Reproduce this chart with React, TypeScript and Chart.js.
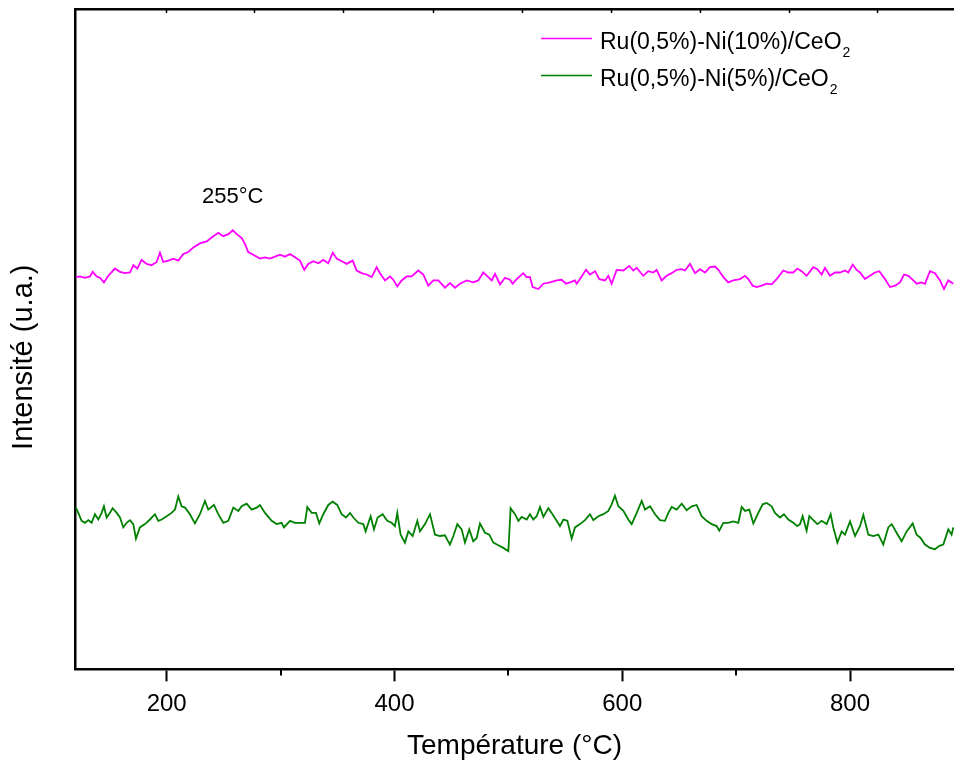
import React, { useEffect, useRef } from "react";
import { Chart, registerables } from "chart.js";

Chart.register(...registerables);

const FONT = '"Liberation Sans", Arial, Helvetica, sans-serif';

// Axis
const X_MIN = 119.5;
const X_MAX = 891.3;
const Y_MIN = 0;
const Y_MAX = 100;
const MAJOR_TICKS = [200, 400, 600, 800];
const MINOR_TICKS = [300, 500, 700];
const TOP_TICKS = [199, 277, 355, 434, 512, 590, 668, 746, 824];
const X_TITLE = "Température (°C)";
const Y_TITLE = "Intensité (u.a.)";

// Annotation
const PEAK_TEXT = "255°C";
const PEAK_X = 258;
const PEAK_Y = 70.6;

// Series labels / colours
const LABEL_A = "Ru(0,5%)-Ni(10%)/CeO₂";
const LABEL_B = "Ru(0,5%)-Ni(5%)/CeO₂";
const COLOR_A = "#ff00ff";
const COLOR_B = "#008000";

// Ru(0,5%)-Ni(10%)/CeO2
const tempsA = [
  120.4, 123.9, 128.3, 132.7, 135.0, 138.5, 141.4, 144.9, 148.7, 154.6, 159.0, 163.4, 167.8, 170.7, 174.2,
  178.0, 182.4, 186.8, 191.2, 194.1, 197.0, 201.4, 205.8, 210.2, 214.6, 219.0, 223.4, 229.2, 235.1, 239.5,
  245.3, 249.7, 254.1, 258.0, 261.5, 265.9, 268.8, 271.6, 276.0, 281.9, 286.3, 290.7, 295.1, 299.5, 303.9,
  308.3, 312.7, 317.0, 320.8, 324.3, 328.7, 333.1, 337.5, 341.9, 345.8, 349.3, 353.7, 358.0, 363.3, 366.8,
  371.2, 375.6, 380.0, 384.4, 387.3, 391.7, 396.1, 399.0, 402.5, 406.3, 410.7, 415.1, 420.9, 425.3, 429.7,
  434.1, 438.5, 444.4, 448.8, 453.1, 457.5, 463.4, 469.2, 473.6, 478.0, 482.4, 485.4, 488.3, 492.7, 497.0,
  501.4, 503.8, 507.3, 513.1, 516.1, 519.0, 521.3, 526.3, 530.7, 536.6, 542.4, 546.8, 550.6, 554.1, 558.5,
  560.0, 562.9, 568.2, 571.7, 576.1, 579.9, 584.9, 587.8, 590.7, 595.1, 601.0, 606.2, 609.7, 612.7, 618.5,
  622.9, 627.3, 630.2, 634.6, 639.0, 643.4, 647.8, 652.2, 655.1, 659.5, 663.9, 668.3, 672.7, 677.0, 681.4,
  684.4, 688.8, 693.1, 697.5, 703.4, 707.8, 710.7, 714.5, 718.0, 722.4, 726.8, 731.2, 735.6, 741.4, 745.8,
  750.2, 753.7, 757.5, 761.9, 767.8, 771.3, 775.1, 778.0, 782.4, 786.8, 791.2, 795.6, 798.5, 802.3, 805.8,
  808.8, 813.1, 817.5, 821.9, 825.7, 830.7, 835.1, 839.5, 843.9, 847.4, 851.2, 855.6, 858.5, 862.9, 865.8,
  870.2, 874.6, 879.0, 882.5, 886.3, 890.7,
];
const valuesA = [
  59.4, 59.5, 59.3, 59.5, 60.2, 59.5, 59.3, 58.6, 59.6, 60.7, 60.2, 60.0, 60.1, 61.2, 60.7,
  62.0, 61.4, 61.2, 61.7, 63.1, 61.7, 61.9, 62.2, 61.9, 62.9, 63.2, 63.9, 64.5, 64.8, 65.4,
  66.1, 65.6, 65.9, 66.5, 65.9, 65.3, 64.4, 63.2, 62.8, 62.2, 62.4, 62.2, 62.5, 62.8, 62.5,
  62.9, 62.4, 61.9, 60.5, 61.4, 61.8, 61.5, 62.0, 61.5, 63.1, 62.2, 61.8, 61.4, 61.9, 60.4,
  60.0, 59.8, 59.4, 60.9, 60.0, 58.9, 59.5, 59.0, 58.0, 58.9, 59.5, 59.5, 60.4, 59.8, 58.1,
  58.9, 58.9, 57.8, 58.5, 57.8, 58.4, 58.9, 58.6, 58.9, 60.1, 59.4, 58.9, 59.9, 58.3, 59.3,
  59.0, 58.4, 59.1, 60.0, 59.4, 59.4, 57.9, 57.6, 58.4, 58.6, 58.9, 59.0, 58.4, 58.6, 58.9,
  58.4, 59.1, 60.5, 59.8, 60.3, 59.1, 58.9, 59.6, 58.4, 60.5, 60.4, 61.1, 60.4, 60.8, 59.6,
  60.3, 60.1, 60.5, 58.9, 59.6, 60.0, 60.5, 60.6, 60.4, 61.4, 60.0, 60.6, 60.1, 60.9, 61.0,
  60.5, 59.4, 58.6, 58.9, 59.1, 59.6, 59.1, 58.1, 57.9, 58.1, 58.4, 58.3, 59.1, 60.4, 60.1,
  60.1, 60.7, 60.3, 59.6, 60.9, 60.6, 59.8, 60.8, 59.6, 60.1, 60.1, 60.4, 60.1, 61.3, 60.5,
  60.1, 59.1, 59.6, 60.1, 60.3, 59.1, 57.9, 58.1, 58.6, 59.8, 59.6, 58.9, 58.4, 58.6, 58.4,
  60.3, 60.0, 58.9, 57.6, 58.9, 58.4,
];

// Ru(0,5%)-Ni(5%)/CeO2
const tempsB = [
  120.3, 122.4, 125.3, 128.3, 131.2, 134.1, 137.0, 140.0, 142.9, 144.9, 147.3, 150.2, 152.5, 156.1, 159.0,
  161.9, 164.8, 167.8, 170.7, 173.0, 176.5, 180.9, 185.3, 189.7, 192.6, 195.6, 200.0, 204.3, 207.3, 210.2,
  213.1, 216.1, 220.4, 224.8, 229.2, 233.6, 236.5, 241.5, 245.3, 249.7, 254.1, 258.5, 262.9, 265.8, 270.2,
  274.6, 279.0, 281.9, 286.3, 292.2, 296.5, 300.9, 303.0, 308.3, 312.6, 317.0, 321.4, 323.5, 327.3, 331.1,
  334.0, 337.5, 341.9, 345.7, 349.8, 353.6, 357.4, 361.0, 363.9, 368.3, 372.6, 374.7, 379.1, 382.0, 385.2,
  389.6, 393.7, 397.5, 400.4, 402.5, 405.4, 409.2, 412.2, 416.0, 420.1, 422.4, 426.8, 431.2, 435.6, 440.0,
  444.3, 448.7, 451.7, 455.2, 459.0, 461.9, 465.7, 469.2, 472.2, 475.1, 479.5, 483.3, 486.8, 491.2, 495.6,
  500.0, 502.0, 505.8, 508.8, 511.7, 516.1, 519.0, 521.9, 524.9, 527.8, 530.7, 535.1, 538.0, 542.4, 545.3,
  548.3, 551.8, 555.6, 558.5, 562.9, 567.3, 571.7, 574.6, 579.0, 583.4, 587.8, 590.7, 593.6, 596.6, 601.0,
  605.3, 608.3, 612.7, 617.1, 620.0, 624.4, 628.8, 633.1, 637.5, 640.5, 643.4, 647.8, 652.2, 656.6, 661.0,
  665.3, 669.7, 674.1, 678.5, 682.9, 685.2, 688.8, 693.1, 697.5, 701.9, 704.9, 707.8, 711.6, 715.1, 719.5,
  723.3, 726.8, 731.2, 734.1, 738.5, 742.0, 745.8, 750.2, 753.7, 756.1, 758.4, 761.9, 764.3, 767.8, 771.3,
  775.1, 779.5, 783.0, 785.3, 788.9, 792.7, 795.6, 800.0, 804.4, 808.8, 811.7, 816.1, 820.5, 824.9, 829.2,
  833.6, 836.6, 840.9, 845.3, 849.7, 855.0, 858.5, 862.0, 865.8, 870.2, 874.6, 878.4, 881.9, 886.3, 889.2,
  890.7,
];
const valuesB = [
  24.5, 23.7, 22.5, 22.2, 22.6, 22.2, 23.5, 22.7, 23.7, 24.7, 23.0, 23.7, 24.4, 23.7, 23.0,
  21.5, 22.2, 22.6, 22.0, 19.8, 21.5, 22.0, 22.7, 23.5, 22.5, 22.7, 23.2, 23.7, 24.2, 26.2,
  24.7, 24.5, 23.5, 22.1, 23.5, 25.5, 24.2, 24.9, 23.5, 22.2, 22.5, 24.5, 24.0, 24.7, 25.1,
  24.2, 24.5, 24.9, 23.7, 22.5, 22.0, 22.2, 21.5, 22.5, 22.2, 22.2, 22.2, 24.6, 23.7, 23.7,
  22.1, 23.5, 24.9, 25.4, 24.9, 23.5, 23.0, 23.7, 23.0, 22.2, 22.0, 20.9, 23.2, 21.2, 23.0,
  23.5, 22.5, 22.2, 21.7, 23.7, 20.4, 19.2, 20.9, 20.2, 22.5, 20.9, 22.0, 23.5, 20.4, 20.2,
  20.3, 18.9, 20.2, 22.0, 21.2, 19.2, 21.2, 19.4, 19.9, 22.1, 20.7, 20.4, 19.2, 18.8, 18.4,
  17.9, 24.4, 23.5, 22.5, 23.1, 22.7, 23.5, 22.7, 23.2, 24.6, 23.1, 24.4, 23.7, 22.5, 21.7,
  22.7, 22.5, 19.8, 21.5, 22.0, 22.6, 23.5, 22.6, 23.2, 23.5, 24.0, 25.0, 26.3, 24.7, 24.0,
  22.7, 22.0, 23.7, 25.5, 24.2, 24.7, 23.5, 22.6, 22.5, 23.7, 24.6, 24.2, 25.1, 24.1, 24.7,
  24.9, 23.2, 22.5, 22.0, 21.7, 21.0, 22.2, 22.2, 22.4, 22.2, 24.6, 24.0, 24.2, 22.1, 23.7,
  25.0, 25.2, 24.7, 23.7, 23.0, 23.5, 22.7, 22.2, 21.7, 22.0, 23.2, 21.0, 23.2, 22.6, 22.0,
  22.5, 22.0, 23.5, 21.5, 19.2, 20.9, 20.4, 22.4, 20.2, 21.7, 23.4, 20.4, 20.2, 20.4, 18.9,
  21.5, 22.0, 20.7, 19.4, 20.9, 22.1, 20.4, 19.9, 18.9, 18.4, 18.2, 18.7, 18.9, 21.2, 20.4,
  21.5,
];

const toPoints = (xs: number[], ys: number[]) => xs.map((x, i) => ({ x, y: ys[i] }));

const decorPlugin = {
  id: "decor",
  afterDraw(chart: any) {
    const { ctx, chartArea: a, scales } = chart;
    const xs = scales.x;
    const ys = scales.y;
    ctx.save();
    ctx.strokeStyle = "#000";
    ctx.lineWidth = 2;
    // minor bottom ticks
    for (const v of MINOR_TICKS) {
      const p = Math.round(xs.getPixelForValue(v));
      ctx.beginPath();
      ctx.moveTo(p, a.bottom);
      ctx.lineTo(p, a.bottom + 6);
      ctx.stroke();
    }
    // top inner ticks
    ctx.lineWidth = 1.5;
    for (const v of TOP_TICKS) {
      const p = Math.round(xs.getPixelForValue(v)) + 0.5;
      ctx.beginPath();
      ctx.moveTo(p, a.top);
      ctx.lineTo(p, a.top + 4);
      ctx.stroke();
    }
    // y title
    ctx.fillStyle = "#000";
    ctx.save();
    ctx.translate(31.7, (a.top + a.bottom) / 2 + 18);
    ctx.rotate(-Math.PI / 2);
    ctx.font = `29px ${FONT}`;
    ctx.textAlign = "center";
    ctx.textBaseline = "alphabetic";
    ctx.fillText(Y_TITLE, 0, 0);
    ctx.restore();
    // peak annotation
    ctx.font = `22px ${FONT}`;
    ctx.textAlign = "center";
    ctx.textBaseline = "alphabetic";
    ctx.fillText(PEAK_TEXT, xs.getPixelForValue(PEAK_X), ys.getPixelForValue(PEAK_Y));
    // legend
    const lx = a.right - 413;
    chart.data.datasets.forEach((ds: any, i: number) => {
      const lineY = a.top + 29.5 + i * 37;
      const baseY = a.top + 39.5 + i * 37;
      ctx.strokeStyle = ds.borderColor;
      ctx.lineWidth = 1.5;
      ctx.beginPath();
      ctx.moveTo(lx, lineY);
      ctx.lineTo(lx + 51, lineY);
      ctx.stroke();
      let label: string = ds.label;
      let sub = "";
      if (label.endsWith("₂")) {
        label = label.slice(0, -1);
        sub = "2";
      }
      ctx.fillStyle = "#000";
      ctx.textAlign = "left";
      ctx.font = `23px ${FONT}`;
      ctx.fillText(label, lx + 59, baseY);
      if (sub) {
        const w = ctx.measureText(label).width;
        ctx.font = `14px ${FONT}`;
        ctx.fillText(sub, lx + 59 + w + 1, baseY + 8);
      }
    });
    ctx.restore();
  },
};

export default function App() {
  const ref = useRef<HTMLCanvasElement | null>(null);

  useEffect(() => {
    if (!ref.current) return;
    const chart = new Chart(ref.current, {
      type: "line",
      data: {
        datasets: [
          {
            label: LABEL_A,
            data: toPoints(tempsA, valuesA),
            borderColor: COLOR_A,
            backgroundColor: COLOR_A,
            borderWidth: 1.8,
            pointRadius: 0,
            tension: 0,
          },
          {
            label: LABEL_B,
            data: toPoints(tempsB, valuesB),
            borderColor: COLOR_B,
            backgroundColor: COLOR_B,
            borderWidth: 1.8,
            pointRadius: 0,
            tension: 0,
          },
        ],
      },
      options: {
        responsive: false,
        devicePixelRatio: 1,
        animation: false,
        layout: { padding: { left: 75, top: 9, right: 0, bottom: 0 } },
        plugins: { legend: { display: false }, tooltip: { enabled: false } },
        scales: {
          x: {
            type: "linear",
            position: "bottom",
            min: X_MIN,
            max: X_MAX,
            afterBuildTicks: (s: any) => {
              s.ticks = MAJOR_TICKS.map((v) => ({ value: v }));
            },
            ticks: {
              color: "#000",
              font: { family: FONT, size: 24 },
              padding: 8.6,
              maxRotation: 0,
              autoSkip: false,
            },
            grid: {
              drawOnChartArea: false,
              drawTicks: true,
              tickLength: 12,
              tickWidth: 2,
              tickColor: "#000",
            },
            border: { display: true, color: "#000", width: 2.5 },
            title: {
              display: true,
              text: X_TITLE,
              color: "#000",
              font: { family: FONT, size: 28 },
              padding: { top: 2.0, bottom: 0 },
            },
          },
          x2: {
            type: "linear",
            position: "top",
            min: X_MIN,
            max: X_MAX,
            ticks: { display: false },
            grid: { display: false, drawTicks: false },
            border: { display: true, color: "#000", width: 2.5 },
          },
          y: {
            type: "linear",
            min: Y_MIN,
            max: Y_MAX,
            ticks: { display: false },
            grid: { display: false, drawTicks: false },
            border: { display: true, color: "#000", width: 2.5 },
          },
        },
      },
      plugins: [decorPlugin],
    } as any);
    return () => chart.destroy();
  }, []);

  return (
    <div style={{ position: "fixed", left: 0, top: 0, width: 954, height: 763, background: "#fff" }}>
      <canvas ref={ref} width={954} height={763} style={{ display: "block" }} />
    </div>
  );
}
